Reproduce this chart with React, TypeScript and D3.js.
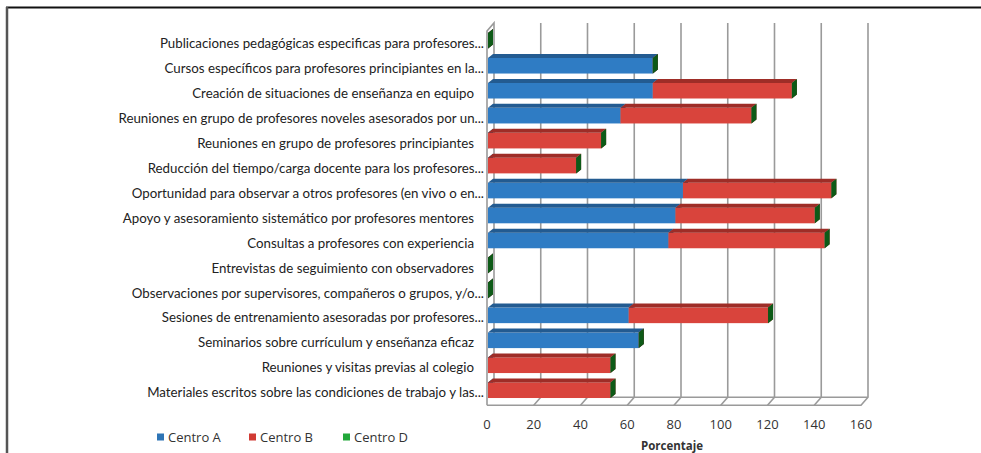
import React, { useRef, useEffect } from "react"
import * as d3 from "d3"

const categories = [
	"Publicaciones pedagógicas especificas para profesores...",
	"Cursos específicos para profesores principiantes en la...",
	"Creación de situaciones de enseñanza en equipo",
	"Reuniones en grupo de profesores noveles asesorados por un...",
	"Reuniones en grupo de profesores principiantes",
	"Reducción del tiempo/carga docente para los profesores...",
	"Oportunidad para observar a otros profesores (en vivo o en...",
	"Apoyo y asesoramiento sistemático por profesores mentores",
	"Consultas a profesores con experiencia",
	"Entrevistas de seguimiento con observadores",
	"Observaciones por supervisores, compañeros o grupos, y/o...",
	"Sesiones de entrenamiento asesoradas por profesores...",
	"Seminarios sobre currículum y enseñanza eficaz",
	"Reuniones y visitas previas al colegio",
	"Materiales escritos sobre las condiciones de trabajo y las...",
]
const centroA = [0, 70.5, 70.5, 56.7, 0, 0, 83.4, 80.2, 77.2, 0, 0, 60.2, 64.5, 0, 0]
const centroB = [0, 0, 59.5, 56, 48.4, 37.7, 63.5, 59.6, 66.8, 0, 0, 59.6, 0, 52.4, 52.4]
const centroD = [0, 0, 0, 0, 0, 0, 0, 0, 0, 0, 0, 0, 0, 0, 0]
const seriesNames = ["Centro A", "Centro B", "Centro D"]
const xTicks = [0, 20, 40, 60, 80, 100, 120, 140, 160]

const colors = [
	{ front: "#2f7cc4", top: "#235b91", side: "#1d4f80", legend: "#2e75b6" },
	{ front: "#d9443c", top: "#9e2d27", side: "#8a2520", legend: "#d13b34" },
	{ front: "#1f9a35", top: "#15662a", side: "#0d5a17", legend: "#22a83a" },
]

const App: React.FunctionComponent = () => {
	const svgRef = useRef<any>()

	useEffect(() => {
		const W = 981
		const H = 453
		const svg = d3.select(svgRef.current).attr("width", W).attr("height", H)
		svg.selectAll("*").remove()

		const depth = { dx: 7, dy: -8 }
		const barDepth = { dx: 5, dy: -4 }

		const xScale = d3.scaleLinear().domain([0, 160]).range([487, 861])
		const yScale = d3.scaleBand<string>().domain(categories).range([30.8, 405.2])

		// frame
		svg.append("line").attr("x1", 6).attr("x2", W).attr("y1", 7.5).attr("y2", 7.5)
			.attr("stroke", "#111").attr("stroke-width", 2)
		svg.append("line").attr("x1", 7).attr("x2", 7).attr("y1", 7).attr("y2", H)
			.attr("stroke", "#555").attr("stroke-width", 2.5)

		const floorY = yScale.range()[1]
		const topY = 23
		const x0 = xScale(0)
		const xMax = xScale(160)

		// walls
		const walls = svg.append("g").attr("fill", "none").attr("stroke", "#9a9a9a").attr("stroke-width", 1.6)
		walls.append("path").attr("d",
			`M${x0},${floorY} L${x0},${topY - depth.dy} L${x0 + depth.dx},${topY} L${x0 + depth.dx},${floorY + depth.dy}`)
		walls.append("path").attr("d",
			`M${x0},${floorY} L${xMax},${floorY} L${xMax + depth.dx},${floorY + depth.dy} L${xMax + depth.dx},${topY}`)
		walls.append("line").attr("x1", x0 + depth.dx).attr("x2", xMax + depth.dx)
			.attr("y1", floorY + depth.dy).attr("y2", floorY + depth.dy)
		walls.selectAll(".grid").data(xTicks.slice(1, -1)).join("line")
			.attr("x1", (d) => xScale(d) + depth.dx).attr("x2", (d) => xScale(d) + depth.dx)
			.attr("y1", topY).attr("y2", floorY + depth.dy)
		walls.selectAll(".ftick").data(xTicks.slice(1, -1)).join("line")
			.attr("x1", (d) => xScale(d) + depth.dx).attr("x2", (d) => xScale(d))
			.attr("y1", floorY + depth.dy).attr("y2", floorY)

		// bars
		const series = [centroA, centroB, centroD]
		const bars = svg.append("g")
		categories.forEach((c, i) => {
			const cy = (yScale(c) || 0) + yScale.bandwidth() / 2 - 2.5
			const y1 = cy - 7.8
			const y2 = cy + 7.8
			let acc = 0
			series.forEach((s, k) => {
				const xa = xScale(acc) + 1
				const xb = xScale(acc + s[i]) + 1
				acc += s[i]
				const col = colors[k]
				if (xb > xa) {
					bars.append("rect").attr("x", xa).attr("y", y1).attr("width", xb - xa).attr("height", y2 - y1)
						.attr("fill", col.front)
					bars.append("path").attr("fill", col.top).attr("d",
						`M${xa},${y1} L${xa + barDepth.dx},${y1 + barDepth.dy} L${xb + barDepth.dx},${y1 + barDepth.dy} L${xb},${y1} Z`)
				}
				bars.append("path").attr("fill", col.side).attr("d",
					`M${xb},${y1} L${xb + barDepth.dx},${y1 + barDepth.dy} L${xb + barDepth.dx},${y2 + barDepth.dy} L${xb},${y2} Z`)
			})
		})

		// category labels
		svg.append("g").selectAll("text").data(categories).join("text")
			.attr("x", (d) => (d.endsWith("...") ? 484 : 474))
			.attr("y", (d) => (yScale(d) || 0) + yScale.bandwidth() / 2)
			.attr("dy", "0.35em")
			.attr("text-anchor", "end")
			.attr("font-family", "Lato")
			.attr("font-size", 13.3)
			.attr("fill", "#222")
			.text((d) => d)

		// x tick labels
		svg.append("g").selectAll("text").data(xTicks).join("text")
			.attr("x", (d) => xScale(d))
			.attr("y", 424)
			.attr("dy", "0.35em")
			.attr("text-anchor", "middle")
			.attr("font-family", "Open Sans")
			.attr("font-size", 13)
			.attr("fill", "#333")
			.text((d) => d)

		svg.append("text").attr("x", 672).attr("y", 446).attr("dy", "0.35em")
			.attr("text-anchor", "middle").attr("font-family", "Open Sans").attr("font-weight", "bold")
			.attr("font-size", 11.5).attr("fill", "#333").text("Porcentaje")

		// legend
		const legendX = [157, 249, 343]
		const lg = svg.append("g").selectAll("g").data(seriesNames).join("g")
			.attr("transform", (d, i) => `translate(${legendX[i]}, 437)`)
		lg.append("rect").attr("x", 0).attr("y", -3.5).attr("width", 7).attr("height", 7)
			.attr("fill", (d, i) => colors[i].legend)
		lg.append("text").attr("x", 11).attr("dy", "0.35em").attr("font-family", "Open Sans")
			.attr("font-size", 13).attr("fill", "#333").text((d) => d)
	}, [])

	return (
		<div style={{ position: "absolute", left: 0, top: 0 }}>
			<svg ref={svgRef}></svg>
		</div>
	)
}

export default App
